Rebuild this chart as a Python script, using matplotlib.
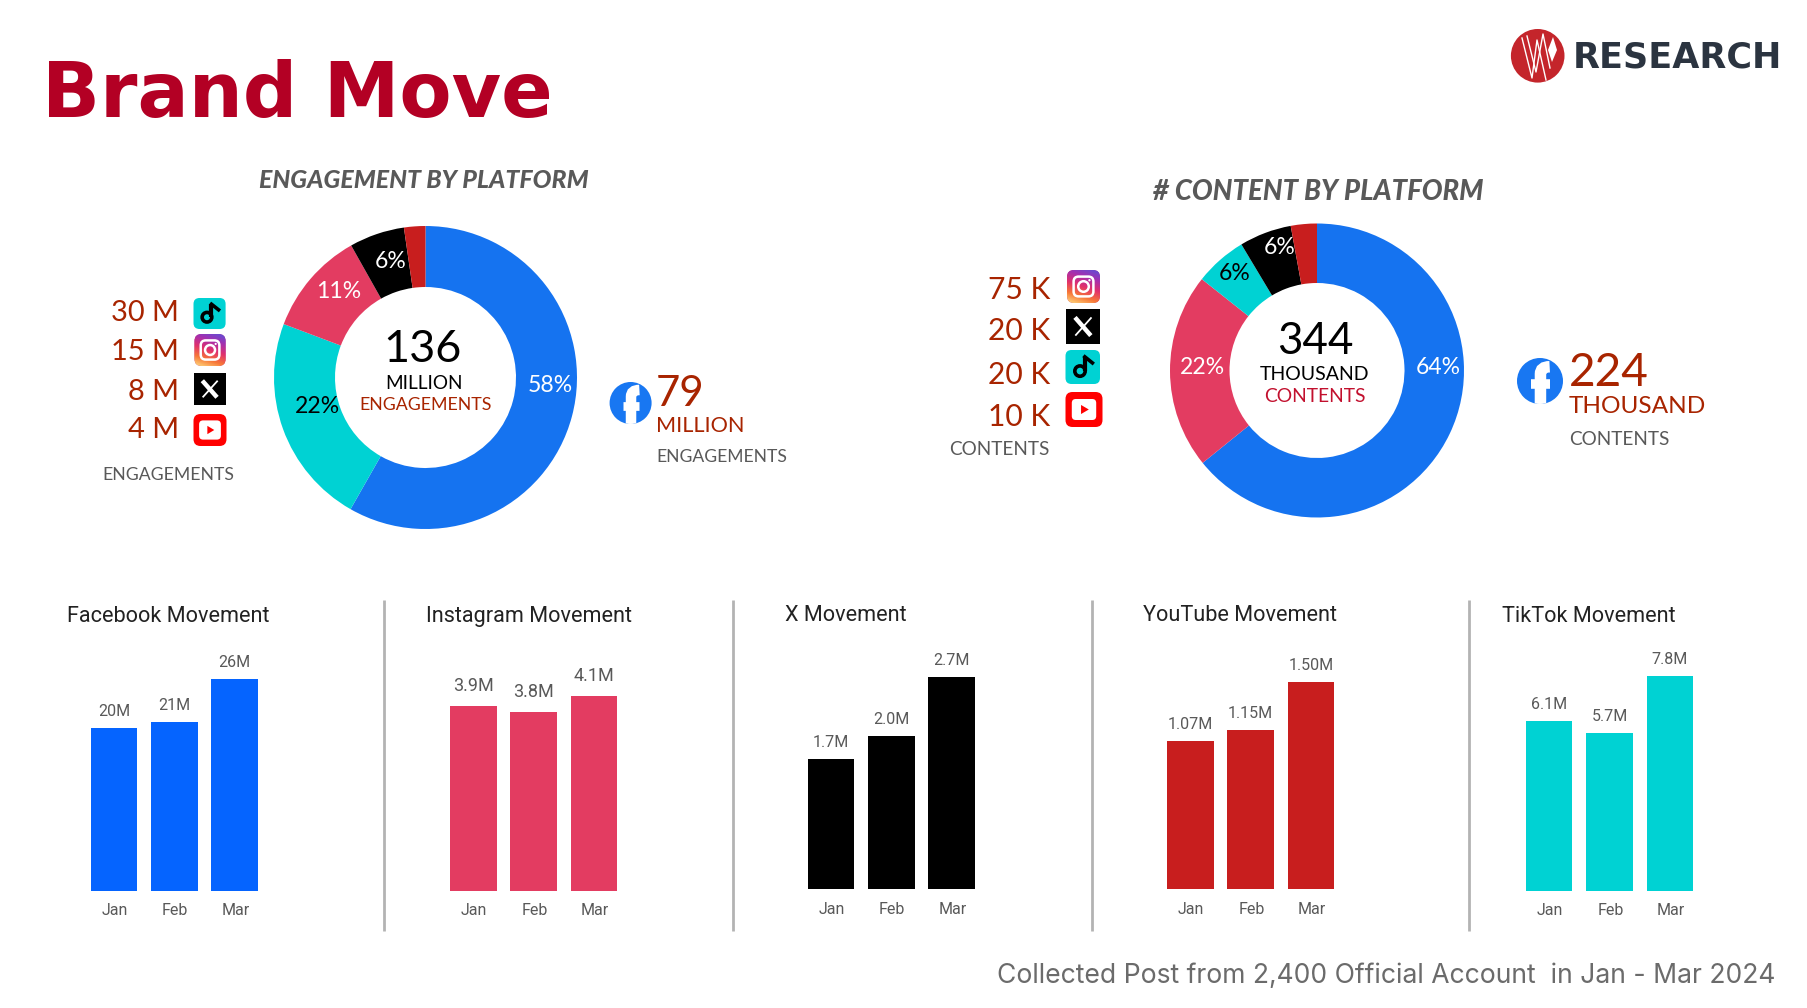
import numpy as np
import matplotlib
matplotlib.use("Agg")
import matplotlib.pyplot as plt
from matplotlib.patches import Circle, FancyBboxPatch, PathPatch, Polygon, Rectangle
from matplotlib.path import Path
from matplotlib.colors import LinearSegmentedColormap
from matplotlib.transforms import ScaledTranslation

W, H = 1807, 1008

# ---- data ----
platforms_eng = ["Facebook", "TikTok", "Instagram", "X", "YouTube"]
values_eng = [79.2, 30.6, 15.1, 8.0, 3.1]  # slice sizes as measured
pct_eng = ["58%", "22%", "11%", "6%"]

platforms_con = ["Facebook", "Instagram", "TikTok", "X", "YouTube"]
values_con = [224, 75, 20, 20, 10]
pct_con = ["64%", "22%", "6%", "6%"]

months = ["Jan", "Feb", "Mar"]
fb_move = [19.97, 20.8, 26]
ig_move = [3.88, 3.76, 4.1]
x_move = [1.66, 1.95, 2.7]
yt_move = [1.07, 1.15, 1.50]
tt_move = [6.17, 5.73, 7.8]
fb_labels = ["20M", "21M", "26M"]
ig_labels = ["3.9M", "3.8M", "4.1M"]
x_labels = ["1.7M", "2.0M", "2.7M"]
yt_labels = ["1.07M", "1.15M", "1.50M"]
tt_labels = ["6.1M", "5.7M", "7.8M"]

list_eng = ["30 M", "15 M", "8 M", "4 M"]
list_con = ["75 K", "20 K", "20 K", "10 K"]

# ---- colours ----
BLUE = "#1573F0"
BAR_BLUE = "#0564FF"
TEAL = "#00D2D3"
PINK = "#E33C61"
RED = "#C81E1E"
DARK_RED = "#A82400"
GRAY = "#595959"
pie_col = {"Facebook": BLUE, "TikTok": TEAL, "Instagram": PINK, "X": "black", "YouTube": RED}

POP = ["Lato", "DejaVu Sans"]
NARROW = ["Liberation Sans Narrow", "Roboto"]


def px(size):
    # font size given in pixels, figure is at 100 dpi
    return size * 0.72


def axes_px(x0, y0, x1, y1):
    return fig.add_axes([x0 / W, 1 - y1 / H, (x1 - x0) / W, (y1 - y0) / H])


fig = plt.figure(figsize=(W / 100, H / 100), dpi=100, facecolor="white")

# full size layer for the texts and icons, coordinates are image pixels
top = fig.add_axes([0, 0, 1, 1], zorder=5)
top.set_xlim(0, W)
top.set_ylim(H, 0)
top.axis("off")
top.patch.set_alpha(0)


def txt(x, y, s, size, color="black", ha="center", **kw):
    kw.setdefault("family", POP)
    top.text(x, y + 2.5, s, fontsize=px(size), color=color, ha=ha, va="center", **kw)


# ---- icons ----
def rbox(x0, y0, x1, y1, color, rad=6):
    p = FancyBboxPatch((x0 + rad, y0 + rad), x1 - x0 - 2 * rad, y1 - y0 - 2 * rad,
                       boxstyle="round,pad=%f,rounding_size=%f" % (rad, rad),
                       fc=color, ec="none")
    top.add_patch(p)
    return p


def icon_tiktok(x0, y0, x1, y1):
    rbox(x0, y0, x1, y1, TEAL)
    w, h = x1 - x0, y1 - y0
    top.add_patch(Circle((x0 + 0.42 * w, y0 + 0.62 * h), 0.15 * w, fc="none", ec="black", lw=2.6))
    top.plot([x0 + 0.56 * w] * 2, [y0 + 0.62 * h, y0 + 0.2 * h], color="black", lw=3, solid_capstyle="butt")
    top.plot([x0 + 0.56 * w, x0 + 0.78 * w], [y0 + 0.2 * h, y0 + 0.38 * h], color="black", lw=2.6)


def icon_insta(x0, y0, x1, y1):
    clip = rbox(x0, y0, x1, y1, "#C13584", rad=7)
    cm = LinearSegmentedColormap.from_list("ig", ["#5B51D8", "#A42FB0", "#E1306C", "#F77737", "#FFDC80"])
    gx, gy = np.meshgrid(np.linspace(0, 1, 60), np.linspace(0, 1, 60))
    grad = 0.75 * gy + 0.25 * (1 - gx)
    im = top.imshow(grad, cmap=cm, extent=(x0, x1, y1, y0), origin="upper", aspect="auto", zorder=2)
    im.set_clip_path(clip)
    top.set_xlim(0, W)
    top.set_ylim(H, 0)
    w, h = x1 - x0, y1 - y0
    in_x, in_y = 0.2 * w, 0.2 * h
    p = FancyBboxPatch((x0 + in_x + 5, y0 + in_y + 5), w - 2 * in_x - 10, h - 2 * in_y - 10,
                       boxstyle="round,pad=5,rounding_size=5", fc="none", ec="white", lw=1.8, zorder=3)
    top.add_patch(p)
    top.add_patch(Circle((x0 + w / 2, y0 + h / 2), 0.16 * w, fc="none", ec="white", lw=1.8, zorder=3))
    top.add_patch(Circle((x0 + 0.68 * w, y0 + 0.31 * h), 0.035 * w, fc="white", ec="none", zorder=3))


def icon_x(x0, y0, x1, y1):
    top.add_patch(Rectangle((x0, y0), x1 - x0, y1 - y0, fc="black", ec="none"))
    w, h = x1 - x0, y1 - y0
    top.plot([x0 + 0.26 * w, x0 + 0.72 * w], [y0 + 0.24 * h, y0 + 0.76 * h], color="white", lw=3.2, solid_capstyle="butt")
    top.plot([x0 + 0.74 * w, x0 + 0.27 * w], [y0 + 0.24 * h, y0 + 0.76 * h], color="white", lw=1.3, solid_capstyle="butt")


def icon_yt(x0, y0, x1, y1):
    rbox(x0, y0, x1, y1, "#FF0000", rad=7)
    w, h = x1 - x0, y1 - y0
    rbox(x0 + 0.17 * w, y0 + 0.2 * h, x1 - 0.17 * w, y1 - 0.2 * h, "white", rad=4)
    top.add_patch(Polygon([(x0 + 0.42 * w, y0 + 0.37 * h), (x0 + 0.42 * w, y0 + 0.63 * h),
                           (x0 + 0.63 * w, y0 + 0.5 * h)], fc="#FF0000", ec="none"))


def icon_fb(cx, cy, r):
    circle = Circle((cx, cy), r, fc="#1877F2", ec="none")
    top.add_patch(circle)
    verts = [(cx + 0.02 * r, cy + r), (cx + 0.02 * r, cy - 0.3 * r),
             (cx + 0.02 * r, cy - 0.62 * r), (cx + 0.42 * r, cy - 0.62 * r)]
    codes = [Path.MOVETO, Path.LINETO, Path.CURVE3, Path.CURVE3]
    stem = PathPatch(Path(verts, codes), fc="none", ec="white", lw=r * 0.36, capstyle="butt")
    top.add_patch(stem)
    stem.set_clip_path(circle)
    top.plot([cx - 0.38 * r, cx + 0.42 * r], [cy + 0.12 * r] * 2, color="white", lw=r * 0.3, solid_capstyle="butt")


# ---- donuts ----
def donut(cx, cy, r, rin, values, names):
    ax = axes_px(cx - r, cy - r, cx + r, cy + r)
    ax.pie(values, colors=[pie_col[n] for n in names], startangle=90, counterclock=False,
           radius=1, wedgeprops=dict(width=1 - rin / r, linewidth=0))
    ax.set_xlim(-1, 1)
    ax.set_ylim(-1, 1)


donut(425.5, 377.5, 151.5, 90.5, values_eng, platforms_eng)
donut(1317, 370.5, 147, 87.5, values_con, platforms_con)

# ---- bar panels ----
def movement(center, bottom, title, title_x, title_y, vals, labels, color, label_size=16, label_off=16.5):
    bar_top = bottom - tops_px[title]
    ax = axes_px(center - 30.15, bar_top, center + 150.75, bottom)
    ax.bar(range(3), vals, width=0.77, color=color)
    ax.set_xlim(-0.5, 2.5)
    ax.set_ylim(0, max(vals))
    for s in ax.spines.values():
        s.set_visible(False)
    ax.set_yticks([])
    ax.set_xticks(range(3))
    ax.set_xticklabels(months, family=NARROW, fontsize=px(16), color=GRAY)
    ax.tick_params(axis="x", length=0, pad=9)
    for lab in ax.get_xticklabels():
        lab.set_transform(lab.get_transform() + ScaledTranslation(1 / 100, 0, fig.dpi_scale_trans))
    for i, v in enumerate(vals):
        ax.annotate(labels[i], (i, v), xytext=(0, label_off * 0.72), textcoords="offset points",
                    ha="center", va="center", family=NARROW, fontsize=px(label_size), color=GRAY,
                    annotation_clip=False)
    txt(title_x, title_y - 1, title, 21.7, "#222222", ha="left", family=NARROW)


# height in pixels of the tallest bar in each panel
tops_px = {"Facebook Movement": 211.4, "Instagram Movement": 195.0, "X Movement": 212.7,
           "YouTube Movement": 207.3, "TikTok Movement": 214.3}

movement(114, 890.7, "Facebook Movement", 67, 615, fb_move, fb_labels, BAR_BLUE)
movement(473.3, 890.7, "Instagram Movement", 426, 615, ig_move, ig_labels, PINK, 18, 20)
movement(831, 889.3, "X Movement", 785, 614, x_move, x_labels, "black")
movement(1190.3, 889.3, "YouTube Movement", 1143, 614, yt_move, yt_labels, RED)
movement(1549.2, 890.7, "TikTok Movement", 1502, 615, tt_move, tt_labels, TEAL)

for sx in [384.6, 733.6, 1092, 1469.7]:
    top.plot([sx - 0.3, sx - 0.3], [600, 930.7], color="#b3b3b3", lw=2, solid_capstyle="butt")

# ---- headline ----
txt(42, 93, "Brand Move", 76, "#B30024", ha="left", family=["DejaVu Sans"], fontweight="bold")
txt(423.5, 177.5, "ENGAGEMENT BY PLATFORM", 24.9, GRAY, fontweight=900, style="italic")
txt(1318, 189.5, "# CONTENT BY PLATFORM", 27.5, GRAY, fontweight=900, style="italic")

# logo
top.add_patch(Circle((1537.7, 55.8), 26.8, fc="#C4252B", ec="none"))
top.plot([1522, 1532, 1537, 1546], [38, 78, 40, 80], color="white", lw=1)
top.plot([1527, 1536, 1543, 1550], [36, 72, 34, 68], color="white", lw=1)
top.add_patch(Polygon([(1553, 37), (1557, 50), (1552, 62), (1548, 50)], fc="white", ec="none"))
txt(1573, 55, "RESEARCH", 35, "#2B3440", ha="left", family=["DejaVu Sans"], fontweight="bold")

# ---- engagement side ----
for s, y in zip(list_eng, [310.7, 349.6, 389, 428]):
    txt(179, y, s, 29, DARK_RED, ha="right")
icon_tiktok(193.5, 298, 225.6, 329)
icon_insta(194.5, 334, 225.6, 366)
icon_x(194, 373, 226, 405)
icon_yt(193.5, 414, 226.5, 446)
txt(168, 472.5, "ENGAGEMENTS", 17.6, GRAY)

txt(423, 346.5, "136", 45)
txt(424, 380.7, "MILLION", 19)
txt(426, 402.8, "ENGAGEMENTS", 17.7, DARK_RED)
for s, x, y, c in zip(pct_eng, [550, 317, 339, 391], [383, 403.6, 288.6, 258.6],
                      ["white", "black", "white", "white"]):
    txt(x, y, s, 23, c)

icon_fb(630.6, 403, 21)
txt(656, 392, "79", 42, DARK_RED, ha="left")
txt(656, 424, "MILLION", 21.7, DARK_RED, ha="left")
txt(656, 454, "ENGAGEMENTS", 17.5, GRAY, ha="left")

# ---- content side ----
for s, y in zip(list_con, [287.5, 329, 372, 414]):
    txt(1050.4, y, s, 30, DARK_RED, ha="right")
icon_insta(1067, 270, 1100, 303)
icon_x(1066, 309, 1100.5, 344)
icon_tiktok(1065.5, 350, 1100, 384)
icon_yt(1065.5, 392, 1102.5, 427)
txt(1050, 447, "CONTENTS", 19, GRAY, ha="right")

txt(1315, 339, "344", 44)
txt(1315, 372, "THOUSAND", 19.5)
txt(1315, 394, "CONTENTS", 19.3, "#C2102E")
for s, x, y, c in zip(pct_con, [1438, 1202.5, 1235, 1279.4], [365, 365, 271.4, 245],
                      ["white", "white", "black", "white"]):
    txt(x, y, s, 23, c)

icon_fb(1540, 381, 23)
txt(1569, 370, "224", 46, DARK_RED, ha="left")
txt(1569, 404, "THOUSAND", 24.4, DARK_RED, ha="left")
txt(1569, 437, "CONTENTS", 19, GRAY, ha="left")

# footer
txt(1775, 973, "Collected Post from 2,400 Official Account  in Jan - Mar 2024", 26.5, "#6B6B6B", ha="right",
    family=["Inter", "DejaVu Sans"])

fig.savefig("out.png", dpi=100, facecolor="white")
